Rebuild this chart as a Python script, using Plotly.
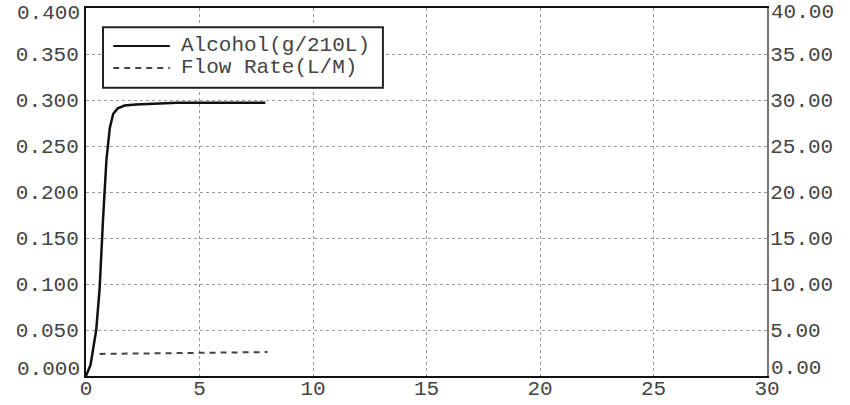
import plotly.graph_objects as go

# Alcohol curve (left axis, g/210L)
alc_x = [0, 0.2, 0.45, 0.6, 0.75, 0.9, 1.05, 1.2, 1.4, 1.7, 2.2, 3.0, 4.0, 5.0, 6.0, 7.0, 7.9]
alc_y = [0.000, 0.012, 0.050, 0.095, 0.170, 0.235, 0.270, 0.285, 0.291, 0.294, 0.295, 0.296, 0.297, 0.297, 0.297, 0.297, 0.297]

# Flow rate (right axis, L/M)
flow_x = [0.6, 1.5, 2.5, 3.5, 4.5, 5.5, 6.5, 7.5, 8.0]
flow_y = [2.40, 2.41, 2.43, 2.46, 2.50, 2.53, 2.56, 2.59, 2.60]

x_ticks = [0, 5, 10, 15, 20, 25, 30]
y_left_ticks = [0.0, 0.05, 0.10, 0.15, 0.20, 0.25, 0.30, 0.35, 0.40]
y_right_ticks = [0, 5, 10, 15, 20, 25, 30, 35, 40]

series_names = ["Alcohol(g/210L)", "Flow Rate(L/M)"]
series_colors = ["#111111", "#444444"]
series_dash = ["solid", "6px,5px"]

FONT = "Liberation Mono, Courier New, monospace"
TXT = "#444444"
FS = 21

fig = go.Figure()
fig.add_trace(go.Scatter(x=alc_x, y=alc_y, mode="lines", name=series_names[0],
                         line=dict(color=series_colors[0], width=2.5), yaxis="y"))
fig.add_trace(go.Scatter(x=flow_x, y=flow_y, mode="lines", name=series_names[1],
                         line=dict(color=series_colors[1], width=2, dash=series_dash[1]),
                         yaxis="y2"))

# Legend box drawn in paper coordinates
shapes = [dict(type="rect", xref="paper", yref="paper", x0=0.025, x1=0.436,
               y0=0.783, y1=0.948, line=dict(color="#222222", width=2),
               fillcolor="white", layer="above")]
annotations = []
legend_rows = [0.897, 0.837]
for name, col, dash, yy in zip(series_names, series_colors, series_dash, legend_rows):
    shapes.append(dict(type="line", xref="paper", yref="paper", x0=0.040, x1=0.123,
                       y0=yy, y1=yy, line=dict(color=col, width=2, dash=dash),
                       layer="above"))
    annotations.append(dict(xref="paper", yref="paper", x=0.136, y=yy, text=name,
                            showarrow=False, xanchor="left", yanchor="middle",
                            font=dict(family=FONT, size=FS, color=TXT)))

# End labels of the value axes are nudged inside the plot height (as in the original)
end_shift = {0: 7, -1: -5}
for idx, ysh in end_shift.items():
    v = y_left_ticks[idx]
    annotations.append(dict(xref="paper", yref="y", x=0, y=v, text=f"{v:.3f}",
                            showarrow=False, xanchor="right", yanchor="middle",
                            xshift=-4, yshift=ysh,
                            font=dict(family=FONT, size=FS, color=TXT)))
    v2 = y_right_ticks[idx]
    annotations.append(dict(xref="paper", yref="y2", x=1, y=v2, text=f"{v2:.2f}",
                            showarrow=False, xanchor="left", yanchor="middle",
                            xshift=2, yshift=ysh + 1,
                            font=dict(family=FONT, size=FS, color=TXT)))

fig.update_layout(
    width=850, height=405,
    margin=dict(l=86, r=83, t=8, b=29),
    paper_bgcolor="white", plot_bgcolor="white",
    font=dict(family=FONT, size=FS, color=TXT),
    showlegend=False,
    shapes=shapes, annotations=annotations,
    xaxis=dict(range=[0, 30], tickvals=x_ticks, ticktext=[str(v) for v in x_ticks],
               showgrid=True, gridcolor="#999999", griddash="dot", gridwidth=1,
               zeroline=False, showline=True, linecolor="#111111", linewidth=2,
               mirror=True, ticks="", ticklabelstandoff=-8, automargin=False,
               ticklabeloverflow="allow"),
    yaxis=dict(range=[0, 0.4], tickvals=y_left_ticks,
               ticktext=[f"{v:.3f}" if 0 < i < len(y_left_ticks) - 1 else ""
                         for i, v in enumerate(y_left_ticks)],
               showgrid=True, gridcolor="#999999", griddash="dot", gridwidth=1,
               zeroline=False, showline=True, linecolor="#111111", linewidth=2,
               ticks="", ticklabelstandoff=1, automargin=False,
               ticklabeloverflow="allow"),
    yaxis2=dict(range=[0, 40], tickvals=y_right_ticks,
                ticktext=[f"{v:.2f}" if 0 < i < len(y_right_ticks) - 1 else ""
                          for i, v in enumerate(y_right_ticks)],
                overlaying="y", side="right", showgrid=False, zeroline=False,
                showline=True, linecolor="#777777", linewidth=2, ticks="",
                ticklabelstandoff=-3, automargin=False, ticklabeloverflow="allow"),
)

fig.write_html("out.html", config={"displayModeBar": False},
               post_script="document.body.style.margin='0px';")
